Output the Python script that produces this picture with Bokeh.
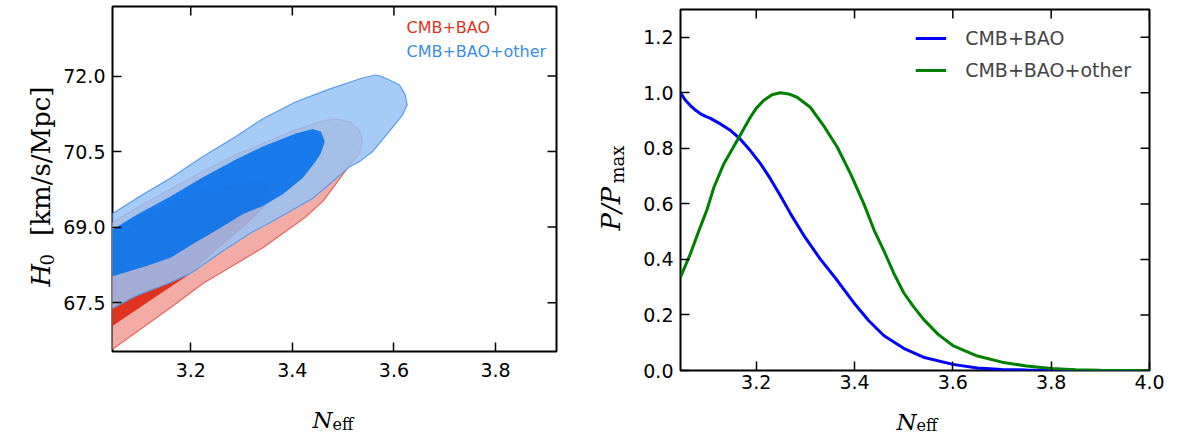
import numpy as np
from bokeh.plotting import figure
from bokeh.models import (Range1d, FixedTicker, PrintfTickFormatter,
                          Label, Legend, LegendItem)
from bokeh.core.properties import value
from bokeh.layouts import row, column
from bokeh.embed import file_html
from bokeh.resources import INLINE

# ---------------- data: left panel (2D contours N_eff vs H0) ----------------
left_xticks = [3.2, 3.4, 3.6, 3.8]
left_yticks = [67.5, 69.0, 70.5, 72.0]
left_xrange = (3.046, 3.92)
left_yrange = (66.53, 73.38)

# CMB+BAO 95% region
red95_x = [3.028, 3.054, 3.093, 3.160, 3.224, 3.289, 3.342, 3.407, 3.460, 3.485, 3.513, 3.532,
           3.538, 3.532, 3.515, 3.485, 3.460, 3.426, 3.407, 3.342, 3.224, 3.160, 3.048, 3.028]
red95_y = [68.96, 69.14, 69.38, 69.75, 70.11, 70.44, 70.66, 70.93, 71.11, 71.15, 71.09, 70.93,
           70.70, 70.46, 70.26, 69.85, 69.51, 69.20, 69.06, 68.59, 67.88, 67.40, 66.59, 66.47]
# CMB+BAO 68% region
red68_x = [3.028, 3.048, 3.093, 3.160, 3.224, 3.289, 3.342, 3.354, 3.360, 3.354, 3.332, 3.283,
           3.244, 3.201, 3.126, 3.048, 3.028]
red68_y = [68.53, 68.72, 69.12, 69.47, 69.71, 69.85, 69.89, 69.83, 69.69, 69.51, 69.26, 68.82,
           68.49, 68.09, 67.58, 67.05, 66.93]
# CMB+BAO+other 95% region
blue95_x = [3.028, 3.048, 3.093, 3.160, 3.224, 3.289, 3.342, 3.407, 3.473, 3.538, 3.564, 3.573,
            3.591, 3.611, 3.622, 3.626, 3.617, 3.591, 3.558, 3.532, 3.513, 3.473, 3.440, 3.407,
            3.362, 3.317, 3.264, 3.201, 3.160, 3.093, 3.048, 3.028]
blue95_y = [69.16, 69.28, 69.57, 69.97, 70.40, 70.80, 71.15, 71.49, 71.74, 71.96, 72.02, 72.00,
            71.92, 71.82, 71.63, 71.43, 71.23, 70.90, 70.50, 70.30, 70.20, 69.85, 69.57, 69.38,
            69.12, 68.88, 68.53, 68.09, 67.90, 67.64, 67.40, 67.32]
# CMB+BAO+other 68% region
blue68_x = [3.028, 3.048, 3.093, 3.160, 3.224, 3.289, 3.342, 3.407, 3.440, 3.456, 3.464, 3.456,
            3.446, 3.420, 3.381, 3.342, 3.303, 3.258, 3.205, 3.160, 3.113, 3.048, 3.028]
blue68_y = [68.86, 68.96, 69.24, 69.61, 69.99, 70.34, 70.60, 70.86, 70.95, 70.90, 70.70, 70.46,
            70.30, 69.97, 69.65, 69.42, 69.26, 68.98, 68.67, 68.39, 68.23, 68.03, 67.97]

# ---------------- data: right panel (1D marginal of N_eff) ----------------
right_xticks = [3.2, 3.4, 3.6, 3.8, 4.0]
right_yticks = [0.0, 0.2, 0.4, 0.6, 0.8, 1.0, 1.2]
right_xrange = (3.046, 4.0)
right_yrange = (0.0, 1.3)

bao_x = [3.046, 3.056, 3.066, 3.077, 3.087, 3.097, 3.107, 3.127, 3.148, 3.165, 3.188, 3.209,
         3.229, 3.249, 3.270, 3.297, 3.330, 3.365, 3.398, 3.429, 3.460, 3.500, 3.540, 3.600,
         3.650, 3.700, 3.750, 3.800, 3.900, 4.000]
bao_p = [1.000, 0.973, 0.954, 0.937, 0.924, 0.915, 0.908, 0.888, 0.864, 0.838, 0.792, 0.744,
         0.690, 0.630, 0.564, 0.486, 0.402, 0.324, 0.245, 0.179, 0.125, 0.080, 0.048, 0.022,
         0.009, 0.004, 0.0015, 0.0005, 0.0, 0.0]

other_x = [3.046, 3.066, 3.087, 3.100, 3.114, 3.134, 3.165, 3.188, 3.200, 3.215, 3.232, 3.249,
           3.266, 3.283, 3.310, 3.337, 3.365, 3.392, 3.419, 3.440, 3.460, 3.480, 3.500, 3.520,
           3.540, 3.570, 3.600, 3.650, 3.700, 3.750, 3.800, 3.850, 3.900, 4.000]
other_p = [0.336, 0.420, 0.520, 0.580, 0.660, 0.744, 0.840, 0.912, 0.944, 0.972, 0.993, 1.000,
           0.996, 0.984, 0.948, 0.882, 0.804, 0.708, 0.600, 0.505, 0.430, 0.350, 0.280, 0.230,
           0.185, 0.130, 0.090, 0.052, 0.030, 0.016, 0.007, 0.003, 0.001, 0.0]

series_names = ["CMB+BAO", "CMB+BAO+other"]

# ---------------- styling helpers ----------------
TICK_FONT = "DejaVu Sans"
SERIF = "DejaVu Serif"


def style_axes(p, xticks, yticks, xr, yr, xstandoff):
    p.outline_line_color = "black"
    p.outline_line_width = 2
    p.xgrid.visible = False
    p.ygrid.visible = False
    for ax in p.xaxis + p.yaxis:
        ax.axis_line_color = None
        ax.minor_tick_line_color = None
        ax.major_tick_in = 9
        ax.major_tick_out = 0
        ax.major_tick_line_width = 1.5
        ax.major_tick_line_color = "black"
        ax.major_label_text_font = TICK_FONT
        ax.major_label_text_font_size = "19px"
        ax.major_label_text_color = "black"
    p.xaxis.ticker = FixedTicker(ticks=xticks)
    p.yaxis.ticker = FixedTicker(ticks=yticks)
    p.xaxis.formatter = PrintfTickFormatter(format="%.1f")
    p.yaxis.formatter = PrintfTickFormatter(format="%.1f")
    p.xaxis.major_label_standoff = xstandoff
    p.yaxis.major_label_standoff = 7
    # mirrored inward ticks on the top and right edges (no labels)
    p.ray(x=xticks, y=[yr[1]] * len(xticks), length=9, length_units="screen",
          angle=-np.pi / 2, line_color="black", line_width=1.5)
    p.ray(x=[xr[1]] * len(yticks), y=yticks, length=9, length_units="screen",
          angle=np.pi, line_color="black", line_width=1.5)


def text_panel(w, h):
    """A bare figure whose frame covers the whole canvas; 1 data unit = 1 pixel."""
    t = figure(width=w, height=h, output_backend="svg", toolbar_location=None, title=None,
               x_range=Range1d(0, w), y_range=Range1d(0, h), x_axis_type=None,
               y_axis_type=None, min_border=0, min_border_left=0, min_border_right=0,
               min_border_top=0, min_border_bottom=0)
    t.outline_line_color = None
    t.xgrid.visible = False
    t.ygrid.visible = False
    return t


def put(t, txt, x, y, size, italic=False, align="left", angle=0.0, font=SERIF):
    t.text(x=[x], y=[y], text=[txt], text_font=value(font), text_font_size=value(size),
           text_font_style="italic" if italic else "normal", text_align=align,
           text_baseline="alphabetic", angle=angle, text_color="black")


def lab(p, text, x, y, size, color):
    p.add_layout(Label(x=x, y=y, x_units="screen", y_units="screen", text=text,
                       text_font=TICK_FONT, text_font_size=size, text_align="left",
                       text_baseline="middle", text_color=color))


# ---------------- left figure ----------------
p1 = figure(width=510, height=385, output_backend="svg", toolbar_location=None,
            x_range=Range1d(*left_xrange), y_range=Range1d(*left_yrange),
            min_border_left=49, min_border_right=14, min_border_top=6, min_border_bottom=34)

p1.patch(red95_x, red95_y, fill_color="#f3aba5", line_color="#e5675d", line_width=1.2)
p1.patch(red68_x, red68_y, fill_color="#e0331f", line_color=None)
p1.patch(blue95_x, blue95_y, fill_color="#97c2f4", fill_alpha=0.85,
         line_color="#5b9be8", line_width=1.2)
p1.patch(blue68_x, blue68_y, fill_color="#006eeb", fill_alpha=0.85, line_color=None)

style_axes(p1, left_xticks, left_yticks, left_xrange, left_yrange, 11)

lab(p1, series_names[0], 294, 324, "16px", "#e0341f")
lab(p1, series_names[1], 294, 300, "16px", "#3a8ee8")

# y label of left panel (page x 0..60)
yl1 = text_panel(60, 385)
put(yl1, "H", 40, 385 - 286, "26px", italic=True, angle=np.pi / 2)
put(yl1, "0", 46, 385 - 265, "18px", angle=np.pi / 2)
put(yl1, "[km/s/Mpc]", 40, 385 - 86, "26px", align="right", angle=np.pi / 2)

# x label of left panel (page y 385..435)
xl1 = text_panel(570, 50)
put(xl1, "N", 312, 435 - 419, "23px", italic=True)
put(xl1, "eff", 332, 435 - 424, "16px")

# ---------------- right figure ----------------
p2 = figure(width=532, height=393, output_backend="svg", toolbar_location=None,
            x_range=Range1d(*right_xrange), y_range=Range1d(*right_yrange),
            min_border_left=45, min_border_right=18, min_border_top=9, min_border_bottom=23)
r_bao = p2.line(bao_x, bao_p, line_color="#0000ff", line_width=3)
r_other = p2.line(other_x, other_p, line_color="#008000", line_width=3)

style_axes(p2, right_xticks, right_yticks, right_xrange, right_yrange, 4)

legend = Legend(items=[LegendItem(label=series_names[0], renderers=[r_bao]),
                       LegendItem(label=series_names[1], renderers=[r_other])],
                location="top_right", label_text_font=TICK_FONT, label_text_font_size="19px",
                glyph_width=31, glyph_height=22, label_height=22, label_standoff=19,
                spacing=10, padding=9, margin=9, border_line_alpha=0,
                background_fill_alpha=0)
p2.add_layout(legend)

# y label of right panel (page x 570..635)
yl2 = text_panel(65, 393)
put(yl2, "P/P", 40.5, 393 - 230, "26px", italic=True, angle=np.pi / 2)
put(yl2, "max", 46.5, 393 - 183, "18px", angle=np.pi / 2)

# x label of right panel (page y 393..435)
xl2 = text_panel(597, 42)
put(xl2, "N", 326, 435 - 421, "23px", italic=True)
put(xl2, "eff", 346, 435 - 425, "16px")

left_block = column(row(column(yl1), column(p1)), xl1)
right_block = column(row(column(yl2), column(p2)), xl2)
layout = row(left_block, right_block)
open("out.html", "w").write(file_html(layout, INLINE))
